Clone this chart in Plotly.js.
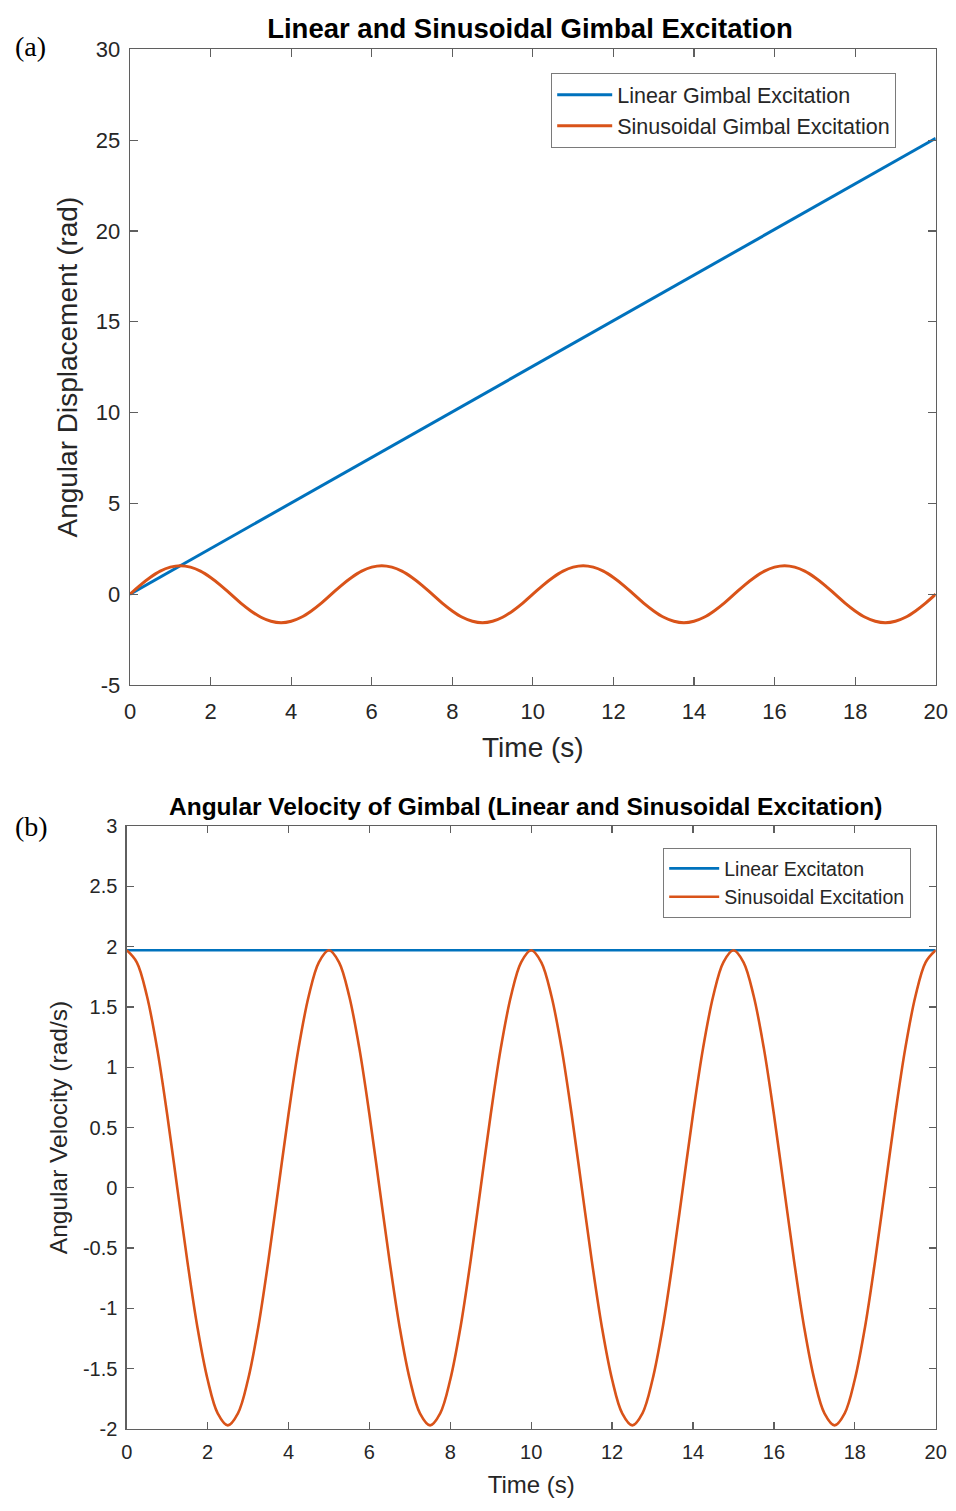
<!DOCTYPE html>
<html>
<head>
<meta charset="utf-8">
<script src="https://cdn.plot.ly/plotly-3.0.1.min.js"></script>
<style>html,body{margin:0;padding:0;background:#fff;} #chart{width:956px;height:1511px;}</style>
</head>
<body>
<div id="chart"></div>
<script>
// ---- data ----
var time = [0,0.25,0.5,0.75,1,1.25,1.5,1.75,2,2.25,2.5,2.75,3,3.25,3.5,3.75,4,4.25,4.5,4.75,
  5,5.25,5.5,5.75,6,6.25,6.5,6.75,7,7.25,7.5,7.75,8,8.25,8.5,8.75,9,9.25,9.5,9.75,
  10,10.25,10.5,10.75,11,11.25,11.5,11.75,12,12.25,12.5,12.75,13,13.25,13.5,13.75,14,14.25,14.5,14.75,
  15,15.25,15.5,15.75,16,16.25,16.5,16.75,17,17.25,17.5,17.75,18,18.25,18.5,18.75,19,19.25,19.5,19.75,20];

var linearTime = [0, 20];
var linearDisp = [0, 25.1];

var sinDisp = [0,0.49,0.92,1.27,1.49,1.57,1.49,1.27,0.92,0.49,0,-0.49,-0.92,-1.27,-1.49,-1.57,-1.49,-1.27,-0.92,-0.49,
  0,0.49,0.92,1.27,1.49,1.57,1.49,1.27,0.92,0.49,0,-0.49,-0.92,-1.27,-1.49,-1.57,-1.49,-1.27,-0.92,-0.49,
  0,0.49,0.92,1.27,1.49,1.57,1.49,1.27,0.92,0.49,0,-0.49,-0.92,-1.27,-1.49,-1.57,-1.49,-1.27,-0.92,-0.49,
  0,0.49,0.92,1.27,1.49,1.57,1.49,1.27,0.92,0.49,0,-0.49,-0.92,-1.27,-1.49,-1.57,-1.49,-1.27,-0.92,-0.49,0];

var linearVel = [1.97, 1.97];

var sinVel = [1.97,1.87,1.59,1.16,0.61,0,-0.61,-1.16,-1.59,-1.87,-1.97,-1.87,-1.59,-1.16,-0.61,0,0.61,1.16,1.59,1.87,
  1.97,1.87,1.59,1.16,0.61,0,-0.61,-1.16,-1.59,-1.87,-1.97,-1.87,-1.59,-1.16,-0.61,0,0.61,1.16,1.59,1.87,
  1.97,1.87,1.59,1.16,0.61,0,-0.61,-1.16,-1.59,-1.87,-1.97,-1.87,-1.59,-1.16,-0.61,0,0.61,1.16,1.59,1.87,
  1.97,1.87,1.59,1.16,0.61,0,-0.61,-1.16,-1.59,-1.87,-1.97,-1.87,-1.59,-1.16,-0.61,0,0.61,1.16,1.59,1.87,1.97];

var xTickVals = [0,2,4,6,8,10,12,14,16,18,20];
var xTickText = ["0","2","4","6","8","10","12","14","16","18","20"];
var y1TickVals = [-5,0,5,10,15,20,25,30];
var y1TickText = ["-5","0","5","10","15","20","25","30"];
var y2TickVals = [-2,-1.5,-1,-0.5,0,0.5,1,1.5,2,2.5,3];
var y2TickText = ["-2","-1.5","-1","-0.5","0","0.5","1","1.5","2","2.5","3"];

// ---- styling ----
var BLUE = '#0072BD', ORANGE = '#D95319';
var FONT = 'Liberation Sans, Arial, sans-serif';
var AXC = '#5f5f5f';
var TXT = '#262626';

var traces = [
  {x: linearTime, y: linearDisp, xaxis:'x', yaxis:'y', mode:'lines', name:'Linear Gimbal Excitation',
   line:{color:BLUE, width:3}, legend:'legend'},
  {x: time, y: sinDisp, xaxis:'x', yaxis:'y', mode:'lines', name:'Sinusoidal Gimbal Excitation',
   line:{color:ORANGE, width:3, shape:'spline'}, legend:'legend'},
  {x: linearTime, y: linearVel, xaxis:'x2', yaxis:'y2', mode:'lines', name:'Linear Excitaton',
   line:{color:BLUE, width:2.6}, legend:'legend2'},
  {x: time, y: sinVel, xaxis:'x2', yaxis:'y2', mode:'lines', name:'Sinusoidal Excitation',
   line:{color:ORANGE, width:2.6, shape:'spline'}, legend:'legend2'}
];

function axisBase(extra){
  var a = {showline:true, linecolor:AXC, linewidth:1.3, mirror:'ticks', ticks:'inside',
    tickcolor:AXC, tickwidth:1.2, showgrid:false, zeroline:false, fixedrange:true,
    tickmode:'array', automargin:false};
  for (var k in extra) a[k]=extra[k];
  return a;
}

var layout = {
  width:956, height:1511,
  margin:{l:0,r:0,t:0,b:0},
  paper_bgcolor:'#fff', plot_bgcolor:'#fff',
  font:{family:FONT, color:TXT},
  showlegend:true,
  title:{text:'<b>Linear and Sinusoidal Gimbal Excitation</b>', font:{family:FONT, size:27.5, color:'#000'},
    x:530/956, xanchor:'center', y:1-28/1511, yanchor:'middle', xref:'paper', yref:'paper'},
  xaxis: axisBase({domain:[130/956, 935.7/956], range:[0,20], anchor:'y',
    tickvals:xTickVals, ticktext:xTickText, ticklen:8, tickfont:{size:22, color:TXT},
    ticklabelstandoff:6,
    title:{text:'Time (s)', font:{size:28, color:TXT}, standoff:14}}),
  yaxis: axisBase({domain:[1-685/1511, 1-49.3/1511], range:[-5,30], anchor:'x',
    tickvals:y1TickVals, ticktext:y1TickText, ticklen:8, tickfont:{size:22, color:TXT},
    ticklabelstandoff:4,
    title:{text:'Angular Displacement (rad)', font:{size:28, color:TXT}, standoff:10}}),
  xaxis2: axisBase({domain:[126.7/956, 935.7/956], range:[0,20], anchor:'y2',
    tickvals:xTickVals, ticktext:xTickText, ticklen:7, tickfont:{size:20, color:TXT},
    ticklabelstandoff:5,
    title:{text:'Time (s)', font:{size:24, color:TXT}, standoff:14}}),
  yaxis2: axisBase({domain:[1-1429/1511, 1-826/1511], range:[-2,3], anchor:'x2',
    tickvals:y2TickVals, ticktext:y2TickText, ticklen:7, tickfont:{size:20, color:TXT},
    ticklabelstandoff:4,
    title:{text:'Angular Velocity (rad/s)', font:{size:24.5, color:TXT}, standoff:8}}),
  legend:{x:551/956, y:1-73/1511, xanchor:'left', yanchor:'top', xref:'paper', yref:'paper',
    itemwidth:55, bgcolor:'#fff', bordercolor:'#7a7a7a', borderwidth:1.2,
    font:{family:FONT, size:21.5, color:TXT}},
  legend2:{x:663/956, y:1-848/1511, xanchor:'left', yanchor:'top', xref:'paper', yref:'paper',
    itemwidth:50, bgcolor:'#fff', bordercolor:'#7a7a7a', borderwidth:1.2,
    font:{family:FONT, size:19.5, color:TXT}},
  annotations:[
    {text:'<b>Angular Velocity of Gimbal (Linear and Sinusoidal Excitation)</b>', xref:'paper', yref:'paper',
     x:525/956, y:1-806/1511, xanchor:'center', yanchor:'middle', showarrow:false,
     font:{family:FONT, size:24.5, color:'#000'}},
    {text:'(a)', xref:'paper', yref:'paper', x:13/956, y:1-47/1511, xanchor:'left', yanchor:'middle',
     showarrow:false, font:{family:'Liberation Serif, Times New Roman, serif', size:28, color:'#000'}},
    {text:'(b)', xref:'paper', yref:'paper', x:13/956, y:1-826/1511, xanchor:'left', yanchor:'middle',
     showarrow:false, font:{family:'Liberation Serif, Times New Roman, serif', size:28, color:'#000'}}
  ]
};

Plotly.newPlot('chart', traces, layout, {staticPlot:true, displayModeBar:false});
</script>
</body>
</html>
